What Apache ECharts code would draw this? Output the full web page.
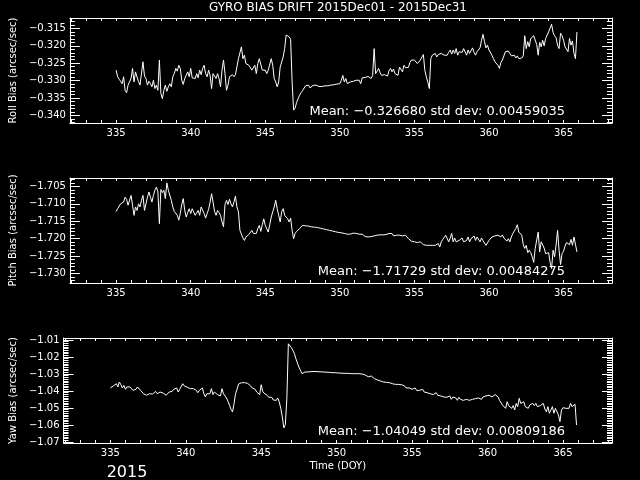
<!DOCTYPE html>
<html>
<head>
<meta charset="utf-8">
<script src="https://cdn.jsdelivr.net/npm/echarts@6/dist/echarts.min.js"></script>
<style>html,body{margin:0;padding:0;background:#000;}#c{width:640px;height:480px;}</style>
</head>
<body>
<div id="c"></div>
<script>
// ---- data (day of year, 2015) ----
var days = [
335.0,335.1,335.2,335.3,335.4,335.5,335.6,335.7,335.8,335.9,
336.0,336.1,336.2,336.3,336.4,336.5,336.6,336.7,336.8,336.9,
337.0,337.1,337.2,337.3,337.4,337.5,337.6,337.7,337.8,337.9,
338.0,338.1,338.2,338.3,338.4,338.5,338.6,338.7,338.8,338.9,
339.0,339.1,339.2,339.3,339.4,339.5,339.6,339.7,339.8,339.9,
340.0,340.1,340.2,340.3,340.4,340.5,340.6,340.7,340.8,340.9,
341.0,341.1,341.2,341.3,341.4,341.5,341.6,341.7,341.8,341.9,
342.0,342.1,342.2,342.3,342.4,342.5,342.6,342.7,342.8,342.9,
343.0,343.1,343.2,343.3,343.4,343.5,343.6,343.7,343.8,343.9,
344.0,344.1,344.2,344.3,344.4,344.5,344.6,344.7,344.8,344.9,
345.0,345.1,345.2,345.3,345.4,345.5,345.6,345.7,345.8,345.9,
346.0,346.1,346.2,346.3,346.4,346.5,346.6,346.7,346.8,346.9,
347.0,347.1,347.2,347.3,347.4,347.5,347.6,347.7,347.8,347.9,
348.0,348.1,348.2,348.3,348.4,348.5,348.6,348.7,348.8,348.9,
349.0,349.1,349.2,349.3,349.4,349.5,349.6,349.7,349.8,349.9,
350.0,350.1,350.2,350.3,350.4,350.5,350.6,350.7,350.8,350.9,
351.0,351.1,351.2,351.3,351.4,351.5,351.6,351.7,351.8,351.9,
352.0,352.1,352.2,352.3,352.4,352.5,352.6,352.7,352.8,352.9,
353.0,353.1,353.2,353.3,353.4,353.5,353.6,353.7,353.8,353.9,
354.0,354.1,354.2,354.3,354.4,354.5,354.6,354.7,354.8,354.9,
355.0,355.1,355.2,355.3,355.4,355.5,355.6,355.7,355.8,355.9,
356.0,356.1,356.2,356.3,356.4,356.5,356.6,356.7,356.8,356.9,
357.0,357.1,357.2,357.3,357.4,357.5,357.6,357.7,357.8,357.9,
358.0,358.1,358.2,358.3,358.4,358.5,358.6,358.7,358.8,358.9,
359.0,359.1,359.2,359.3,359.4,359.5,359.6,359.7,359.8,359.9,
360.0,360.1,360.2,360.3,360.4,360.5,360.6,360.7,360.8,360.9,
361.0,361.1,361.2,361.3,361.4,361.5,361.6,361.7,361.8,361.9,
362.0,362.1,362.2,362.3,362.4,362.5,362.6,362.7,362.8,362.9,
363.0,363.1,363.2,363.3,363.4,363.5,363.6,363.7,363.8,363.9,
364.0,364.1,364.2,364.3,364.4,364.5,364.6,364.7,364.8,364.9,
365.0,365.1,365.2,365.3,365.4,365.5,365.6,365.7,365.8,365.9
];
var rollBias = [
-0.3270,-0.3289,-0.3296,-0.3302,-0.3309,-0.3289,-0.3328,-0.3335,-0.3313,-0.3309,
-0.3294,-0.3265,-0.3304,-0.3275,-0.3290,-0.3302,-0.3313,-0.3318,-0.3246,-0.3287,
-0.3294,-0.3313,-0.3302,-0.3309,-0.3318,-0.3299,-0.3323,-0.3313,-0.3328,-0.3241,
-0.3337,-0.3352,-0.3328,-0.3313,-0.3331,-0.3318,-0.3309,-0.3318,-0.3289,-0.3280,
-0.3265,-0.3273,-0.3256,-0.3265,-0.3299,-0.3311,-0.3294,-0.3289,-0.3275,-0.3289,
-0.3265,-0.3292,-0.3289,-0.3294,-0.3280,-0.3292,-0.3270,-0.3283,-0.3265,-0.3256,
-0.3280,-0.3289,-0.3270,-0.3285,-0.3323,-0.3280,-0.3287,-0.3294,-0.3280,-0.3294,
-0.3318,-0.3270,-0.3241,-0.3280,-0.3328,-0.3313,-0.3289,-0.3294,-0.3283,-0.3289,
-0.3283,-0.3280,-0.3237,-0.3232,-0.3203,-0.3237,-0.3227,-0.3251,-0.3246,-0.3256,
-0.3256,-0.3270,-0.3265,-0.3256,-0.3280,-0.3251,-0.3237,-0.3232,-0.3270,-0.3275,
-0.3270,-0.3280,-0.3270,-0.3275,-0.3237,-0.3256,-0.3294,-0.3304,-0.3318,-0.3304,
-0.3261,-0.3265,-0.3232,-0.3208,-0.3169,-0.3164,-0.3174,-0.3181,-0.3304,-0.3385,
-0.3379,-0.3363,-0.3352,-0.3342,-0.3335,-0.3329,-0.3331,-0.3315,-0.3317,-0.3313,
-0.3321,-0.3318,-0.3314,-0.3317,-0.3313,-0.3315,-0.3317,-0.3318,-0.3317,-0.3313,
-0.3315,-0.3318,-0.3315,-0.3311,-0.3313,-0.3310,-0.3312,-0.3309,-0.3310,-0.3310,
-0.3309,-0.3299,-0.3285,-0.3304,-0.3294,-0.3309,-0.3308,-0.3304,-0.3304,-0.3302,
-0.3304,-0.3299,-0.3302,-0.3299,-0.3309,-0.3292,-0.3290,-0.3291,-0.3289,-0.3288,
-0.3287,-0.3294,-0.3285,-0.3208,-0.3280,-0.3285,-0.3265,-0.3277,-0.3285,-0.3280,
-0.3283,-0.3280,-0.3287,-0.3271,-0.3265,-0.3275,-0.3267,-0.3280,-0.3280,-0.3285,
-0.3261,-0.3265,-0.3275,-0.3256,-0.3263,-0.3267,-0.3262,-0.3248,-0.3241,-0.3246,
-0.3241,-0.3246,-0.3251,-0.3248,-0.3241,-0.3237,-0.3225,-0.3270,-0.3289,-0.3304,
-0.3323,-0.3237,-0.3227,-0.3232,-0.3222,-0.3232,-0.3225,-0.3227,-0.3222,-0.3219,
-0.3227,-0.3222,-0.3227,-0.3219,-0.3212,-0.3224,-0.3212,-0.3222,-0.3208,-0.3227,
-0.3217,-0.3215,-0.3219,-0.3208,-0.3212,-0.3227,-0.3212,-0.3222,-0.3220,-0.3206,
-0.3219,-0.3227,-0.3217,-0.3217,-0.3206,-0.3184,-0.3167,-0.3188,-0.3206,-0.3198,
-0.3212,-0.3215,-0.3227,-0.3237,-0.3246,-0.3241,-0.3256,-0.3265,-0.3248,-0.3241,
-0.3237,-0.3217,-0.3222,-0.3215,-0.3222,-0.3229,-0.3225,-0.3227,-0.3235,-0.3229,
-0.3237,-0.3232,-0.3235,-0.3229,-0.3171,-0.3208,-0.3188,-0.3203,-0.3179,-0.3184,
-0.3171,-0.3174,-0.3196,-0.3227,-0.3190,-0.3203,-0.3184,-0.3200,-0.3179,-0.3174,
-0.3160,-0.3155,-0.3138,-0.3162,-0.3171,-0.3177,-0.3198,-0.3208,-0.3164,-0.3171,
-0.3184,-0.3203,-0.3198,-0.3217,-0.3179,-0.3198,-0.3186,-0.3222,-0.3237,-0.3160
];
var pitchBias = [
-1.7122,-1.7114,-1.7109,-1.7100,-1.7104,-1.7095,-1.7081,-1.7087,-1.7104,-1.7090,
-1.7076,-1.7104,-1.7133,-1.7109,-1.7119,-1.7100,-1.7109,-1.7090,-1.7076,-1.7119,
-1.7100,-1.7081,-1.7066,-1.7081,-1.7095,-1.7076,-1.7061,-1.7052,-1.7066,-1.7157,
-1.7059,-1.7068,-1.7061,-1.7085,-1.7040,-1.7061,-1.7064,-1.7090,-1.7109,-1.7122,
-1.7119,-1.7133,-1.7147,-1.7128,-1.7102,-1.7085,-1.7119,-1.7138,-1.7125,-1.7114,
-1.7128,-1.7114,-1.7114,-1.7133,-1.7131,-1.7119,-1.7133,-1.7109,-1.7106,-1.7128,
-1.7141,-1.7128,-1.7116,-1.7095,-1.7071,-1.7095,-1.7122,-1.7133,-1.7119,-1.7125,
-1.7133,-1.7152,-1.7166,-1.7102,-1.7090,-1.7102,-1.7087,-1.7100,-1.7109,-1.7095,
-1.7078,-1.7109,-1.7123,-1.7176,-1.7171,-1.7198,-1.7205,-1.7195,-1.7190,-1.7188,
-1.7192,-1.7176,-1.7185,-1.7183,-1.7185,-1.7171,-1.7162,-1.7179,-1.7160,-1.7143,
-1.7162,-1.7157,-1.7181,-1.7160,-1.7138,-1.7123,-1.7109,-1.7090,-1.7114,-1.7133,
-1.7152,-1.7123,-1.7114,-1.7133,-1.7128,-1.7143,-1.7152,-1.7141,-1.7176,-1.7200,
-1.7185,-1.7179,-1.7174,-1.7171,-1.7169,-1.7162,-1.7159,-1.7163,-1.7161,-1.7164,
-1.7163,-1.7166,-1.7163,-1.7167,-1.7165,-1.7168,-1.7166,-1.7170,-1.7169,-1.7172,
-1.7171,-1.7174,-1.7172,-1.7176,-1.7174,-1.7178,-1.7176,-1.7180,-1.7179,-1.7182,
-1.7180,-1.7183,-1.7181,-1.7185,-1.7183,-1.7187,-1.7184,-1.7187,-1.7185,-1.7184,
-1.7189,-1.7185,-1.7190,-1.7187,-1.7189,-1.7187,-1.7190,-1.7194,-1.7192,-1.7195,
-1.7196,-1.7194,-1.7195,-1.7192,-1.7194,-1.7190,-1.7194,-1.7189,-1.7192,-1.7189,
-1.7190,-1.7188,-1.7187,-1.7185,-1.7189,-1.7185,-1.7192,-1.7189,-1.7190,-1.7188,
-1.7190,-1.7190,-1.7192,-1.7189,-1.7190,-1.7195,-1.7200,-1.7204,-1.7207,-1.7205,
-1.7209,-1.7208,-1.7211,-1.7214,-1.7209,-1.7214,-1.7217,-1.7214,-1.7219,-1.7224,
-1.7219,-1.7221,-1.7219,-1.7221,-1.7219,-1.7223,-1.7214,-1.7224,-1.7209,-1.7202,
-1.7205,-1.7190,-1.7195,-1.7209,-1.7198,-1.7185,-1.7209,-1.7198,-1.7209,-1.7214,
-1.7205,-1.7207,-1.7198,-1.7209,-1.7214,-1.7205,-1.7195,-1.7209,-1.7200,-1.7202,
-1.7192,-1.7205,-1.7195,-1.7200,-1.7209,-1.7198,-1.7206,-1.7211,-1.7219,-1.7224,
-1.7205,-1.7200,-1.7195,-1.7196,-1.7192,-1.7190,-1.7190,-1.7185,-1.7195,-1.7189,
-1.7198,-1.7202,-1.7207,-1.7200,-1.7209,-1.7195,-1.7185,-1.7190,-1.7171,-1.7160,
-1.7181,-1.7181,-1.7190,-1.7217,-1.7228,-1.7219,-1.7240,-1.7233,-1.7240,-1.7252,
-1.7268,-1.7228,-1.7233,-1.7181,-1.7238,-1.7209,-1.7214,-1.7227,-1.7243,-1.7240,
-1.7240,-1.7268,-1.7286,-1.7233,-1.7252,-1.7219,-1.7176,-1.7233,-1.7274,-1.7243,
-1.7236,-1.7221,-1.7211,-1.7211,-1.7217,-1.7202,-1.7219,-1.7195,-1.7190,-1.7238
];
var yawBias = [
-1.0382,-1.0376,-1.0370,-1.0367,-1.0357,-1.0376,-1.0347,-1.0363,-1.0382,-1.0367,
-1.0390,-1.0376,-1.0386,-1.0376,-1.0382,-1.0396,-1.0386,-1.0390,-1.0376,-1.0370,
-1.0396,-1.0390,-1.0416,-1.0406,-1.0425,-1.0435,-1.0416,-1.0421,-1.0418,-1.0410,
-1.0402,-1.0416,-1.0410,-1.0406,-1.0416,-1.0412,-1.0421,-1.0425,-1.0416,-1.0406,
-1.0396,-1.0402,-1.0390,-1.0398,-1.0382,-1.0406,-1.0390,-1.0382,-1.0357,-1.0370,
-1.0376,-1.0378,-1.0376,-1.0386,-1.0382,-1.0386,-1.0390,-1.0396,-1.0410,-1.0396,
-1.0406,-1.0382,-1.0416,-1.0435,-1.0416,-1.0410,-1.0416,-1.0386,-1.0421,-1.0406,
-1.0402,-1.0421,-1.0410,-1.0429,-1.0386,-1.0416,-1.0425,-1.0441,-1.0461,-1.0484,
-1.0508,-1.0523,-1.0474,-1.0416,-1.0390,-1.0359,-1.0363,-1.0351,-1.0347,-1.0351,
-1.0345,-1.0355,-1.0363,-1.0370,-1.0382,-1.0386,-1.0390,-1.0406,-1.0410,-1.0421,
-1.0363,-1.0402,-1.0414,-1.0421,-1.0425,-1.0437,-1.0443,-1.0437,-1.0453,-1.0461,
-1.0455,-1.0441,-1.0465,-1.0504,-1.0553,-1.0617,-1.0598,-1.0445,-1.0122,-1.0127,
-1.0145,-1.0161,-1.0180,-1.0210,-1.0235,-1.0259,-1.0278,-1.0298,-1.0292,-1.0288,
-1.0284,-1.0288,-1.0283,-1.0286,-1.0282,-1.0285,-1.0283,-1.0286,-1.0284,-1.0287,
-1.0285,-1.0288,-1.0286,-1.0289,-1.0287,-1.0290,-1.0288,-1.0292,-1.0289,-1.0292,
-1.0290,-1.0294,-1.0291,-1.0295,-1.0292,-1.0296,-1.0293,-1.0296,-1.0294,-1.0297,
-1.0295,-1.0298,-1.0295,-1.0298,-1.0296,-1.0298,-1.0297,-1.0300,-1.0302,-1.0306,
-1.0310,-1.0316,-1.0318,-1.0312,-1.0323,-1.0327,-1.0323,-1.0335,-1.0341,-1.0341,
-1.0339,-1.0347,-1.0343,-1.0349,-1.0347,-1.0351,-1.0355,-1.0357,-1.0357,-1.0361,
-1.0363,-1.0361,-1.0367,-1.0363,-1.0367,-1.0370,-1.0382,-1.0390,-1.0382,-1.0386,
-1.0390,-1.0386,-1.0382,-1.0396,-1.0386,-1.0396,-1.0402,-1.0390,-1.0406,-1.0396,
-1.0410,-1.0402,-1.0416,-1.0406,-1.0421,-1.0416,-1.0410,-1.0425,-1.0416,-1.0429,
-1.0421,-1.0435,-1.0425,-1.0437,-1.0441,-1.0429,-1.0449,-1.0435,-1.0445,-1.0441,
-1.0455,-1.0437,-1.0449,-1.0441,-1.0455,-1.0445,-1.0449,-1.0441,-1.0455,-1.0445,
-1.0449,-1.0441,-1.0445,-1.0437,-1.0441,-1.0435,-1.0449,-1.0435,-1.0441,-1.0429,
-1.0435,-1.0425,-1.0421,-1.0435,-1.0429,-1.0421,-1.0429,-1.0435,-1.0455,-1.0461,
-1.0484,-1.0473,-1.0502,-1.0463,-1.0486,-1.0482,-1.0502,-1.0486,-1.0512,-1.0473,
-1.0492,-1.0443,-1.0473,-1.0482,-1.0463,-1.0492,-1.0482,-1.0502,-1.0482,-1.0492,
-1.0473,-1.0486,-1.0473,-1.0492,-1.0502,-1.0486,-1.0492,-1.0473,-1.0506,-1.0522,
-1.0492,-1.0531,-1.0512,-1.0492,-1.0531,-1.0502,-1.0512,-1.0541,-1.0580,-1.0512,
-1.0498,-1.0506,-1.0502,-1.0492,-1.0502,-1.0473,-1.0492,-1.0482,-1.0478,-1.0600
];

// ---- tick labels ----
var dayLabels = [335, 340, 345, 350, 355, 360, 365];
var rollTicks = [-0.340, -0.335, -0.330, -0.325, -0.320, -0.315];
var pitchTicks = [-1.730, -1.725, -1.720, -1.715, -1.710, -1.705];
var yawTicks = [-1.07, -1.06, -1.05, -1.04, -1.03, -1.02, -1.01];

var titleText = 'GYRO BIAS DRIFT 2015Dec01 - 2015Dec31';
var statTexts = [
  'Mean: \u22120.326680 std dev: 0.00459035',
  'Mean: \u22121.71729 std dev: 0.00484275',
  'Mean: \u22121.04049 std dev: 0.00809186'
];
var yNames = ['Roll Bias (arcsec/sec)', 'Pitch Bias (arcsec/sec)', 'Yaw Bias (arcsec/sec)'];
var xName = 'Time (DOY)';
var yearText = '2015';

// ---- helpers ----
function steps(a, b, s) { var out = []; var n = Math.round((b - a) / s); for (var k = 0; k <= n; k++) out.push(+(a + k * s).toFixed(6)); return out; }
var dayTicks = steps(332, 368, 1);
var FONT = 'DejaVu Sans';
var W = '#ffffff';

var panels = [
  { vals: rollBias, min: -0.3422, max: -0.3120, majors: rollTicks, minors: steps(-0.342, -0.312, 0.001), dec: 3, top: 18, nameGap: 47 },
  { vals: pitchBias, min: -1.7327, max: -1.7026, majors: pitchTicks, minors: steps(-1.732, -1.703, 0.001), dec: 3, top: 178, nameGap: 47 },
  { vals: yawBias, min: -1.0706, max: -1.0088, majors: yawTicks, minors: steps(-1.070, -1.009, 0.001), dec: 2, top: 338, nameGap: 39 }
];
var XMIN = 331.9, XMAX = 368.25;

var grids = [], xAxes = [], yAxes = [], series = [], graphics = [];
panels.forEach(function (p, g) {
  grids.push({ left: 61, right: 28, top: p.top, height: 105, containLabel: false });
  ['bottom', 'top'].forEach(function (pos) {
    var ax = {
      gridIndex: g, type: 'value', position: pos, min: XMIN, max: XMAX,
      axisLine: { show: true, onZero: false, lineStyle: { color: W, width: 1 } },
      axisTick: { show: true, inside: true, length: 3, customValues: dayTicks, lineStyle: { color: W, width: 1 } },
      axisLabel: { show: pos === 'bottom', customValues: dayLabels, color: W, fontSize: 10, fontFamily: FONT, margin: 5,
        formatter: function (v) { return String(Math.round(v)); } },
      splitLine: { show: false }
    };
    if (g === 2 && pos === 'bottom') {
      ax.name = xName; ax.nameLocation = 'middle'; ax.nameGap = 18;
      ax.nameTextStyle = { color: W, fontSize: 10, fontFamily: FONT };
    }
    xAxes.push(ax);
  });
  ['left', 'right'].forEach(function (pos) {
    var major = {
      gridIndex: g, type: 'value', position: pos, min: p.min, max: p.max,
      axisLine: { show: true, onZero: false, lineStyle: { color: W, width: 1 } },
      axisTick: { show: true, inside: true, length: 10, customValues: p.majors, lineStyle: { color: W, width: 1 } },
      axisLabel: { show: pos === 'left', customValues: p.majors, color: W, fontSize: 10, fontFamily: FONT, margin: 4,
        formatter: function (v) { return (v < 0 ? '\u2212' : '') + Math.abs(v).toFixed(p.dec); } },
      splitLine: { show: false }
    };
    if (pos === 'left') {
      major.name = yNames[g]; major.nameLocation = 'middle'; major.nameGap = p.nameGap; major.nameRotate = 90;
      major.nameTextStyle = { color: W, fontSize: 10, fontFamily: FONT };
    }
    yAxes.push(major);
    yAxes.push({
      gridIndex: g, type: 'value', position: pos, min: p.min, max: p.max,
      axisLine: { show: false },
      axisTick: { show: true, inside: true, length: 5, customValues: p.minors, lineStyle: { color: W, width: 1 } },
      axisLabel: { show: false }, splitLine: { show: false }
    });
  });
  series.push({
    type: 'line', xAxisIndex: g * 2, yAxisIndex: g * 4,
    data: days.map(function (d, i) { return [d, p.vals[i]]; }),
    showSymbol: false, symbol: 'none', lineStyle: { color: W, width: 1 }, animation: false
  });
});

var statY = [112, 272, 432];
statTexts.forEach(function (t, g) {
  graphics.push({ type: 'text', x: 565, y: statY[g], style: { text: t, fill: W, font: '13px "DejaVu Sans"', textAlign: 'right', textVerticalAlign: 'middle' } });
});
graphics.push({ type: 'text', x: 338, y: 8, style: { text: titleText, fill: W, font: '12px "DejaVu Sans"', textAlign: 'center', textVerticalAlign: 'middle' } });
graphics.push({ type: 'text', x: 127, y: 473, style: { text: yearText, fill: W, font: '16px "DejaVu Sans"', textAlign: 'center', textVerticalAlign: 'middle' } });

var chart = echarts.init(document.getElementById('c'), null, { renderer: 'canvas' });
chart.setOption({
  backgroundColor: '#000000',
  animation: false,
  grid: grids, xAxis: xAxes, yAxis: yAxes, series: series, graphic: graphics
});
</script>
</body>
</html>
